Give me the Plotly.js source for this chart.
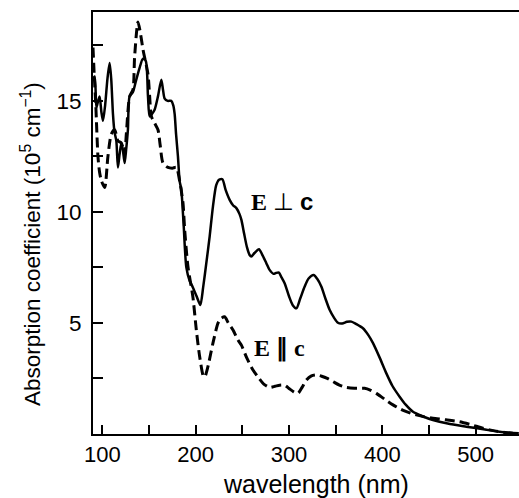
<!DOCTYPE html>
<html>
<head>
<meta charset="utf-8">
<script src="https://cdn.plot.ly/plotly-3.0.1.min.js"></script>
<style>html,body{margin:0;padding:0;background:#fff;}#chart{width:519px;height:498px;}</style>
</head>
<body>
<div id="chart"></div>
<script>
// E perpendicular c (solid)
var perpWavelength = [90, 91.8, 93.6, 95.5, 97.1, 99, 100.7, 103, 105.5, 107.8, 109.5, 111.4, 113, 115, 116.7, 118.5, 120.4, 122, 123.9, 125.5, 127.4, 129.2, 132.8, 136, 140, 143.5, 146.5, 148.9, 150.7, 153, 156, 159.6, 163.2, 165, 166.8, 170, 173.9, 176, 177.5, 179, 181, 182.8, 184.6, 187, 190, 193.5, 197, 201, 205, 208, 211.4, 215, 218.5, 222, 225, 228.6, 232, 236.4, 240, 243.6, 247, 249, 252, 255, 257.8, 259.6, 263, 267.8, 271, 275.7, 279, 283.5, 286, 289.2, 292, 295.3, 300, 304, 307.9, 312, 316.8, 321, 326.4, 330, 334.6, 339, 343.5, 348, 352.4, 357, 362, 366.8, 372, 379.2, 385, 390, 397, 404.3, 411, 418.5, 425, 432.8, 443, 454.2, 470, 490, 510, 525.7, 546];
var perpAbsorption = [16.0, 16.1, 14.7, 15.0, 15.2, 14.5, 14.1, 14.8, 16.0, 16.7, 16.0, 14.4, 13.6, 13.2, 12.0, 12.6, 13.1, 12.8, 12.2, 12.8, 13.7, 15.2, 15.4, 15.9, 16.5, 16.9, 16.8, 15.2, 14.3, 14.4, 14.6, 15.2, 15.95, 15.5, 15.1, 15.0, 15.0, 14.8, 14.4, 13.5, 12.5, 11.4, 11.0, 9.5, 7.5, 6.9, 6.6, 6.2, 5.81, 6.6, 7.69, 8.9, 10.24, 11.2, 11.45, 11.47, 11.0, 10.54, 10.3, 10.17, 9.9, 9.64, 9.0, 8.4, 8.06, 7.99, 8.15, 8.32, 8.1, 7.69, 7.4, 7.21, 7.25, 7.27, 7.05, 6.79, 6.2, 5.8, 5.66, 6.1, 6.64, 7.0, 7.16, 7.0, 6.64, 6.1, 5.59, 5.25, 5.01, 4.98, 5.05, 5.06, 4.95, 4.76, 4.45, 4.09, 3.45, 2.73, 2.15, 1.68, 1.32, 1.0, 0.8, 0.63, 0.47, 0.33, 0.2, 0.1, 0.03];

// E parallel c (dashed)
var paraWavelength = [90, 91.5, 93, 95.3, 97, 99, 102.5, 106, 109.6, 113.2, 116.7, 120.4, 123.9, 125.7, 129.3, 132.8, 134.6, 138.2, 141, 143.6, 148.9, 150.7, 152.5, 156, 159.6, 162, 165, 170.3, 175, 179.3, 182.8, 186.4, 188.2, 191.7, 197, 200.7, 204.3, 208.5, 210, 213.1, 218.5, 223.9, 227, 231, 235, 240, 245.3, 249, 255, 261.4, 268, 273, 279.3, 285, 290, 295.3, 300, 305, 309.6, 314, 318.6, 324, 329.3, 335, 341, 347.1, 354, 361.4, 370, 381, 387, 393.6, 402, 411.4, 423, 436.4, 445, 454.2, 468, 482.8, 495, 507.8, 520, 532.9, 546];
var paraAbsorption = [17.4, 16.0, 14.8, 12.5, 11.8, 11.4, 11.1, 12.5, 13.5, 13.7, 13.2, 13.1, 12.6, 13.5, 15.2, 15.5, 17.0, 18.55, 18.0, 17.3, 16.2, 15.2, 14.3, 14.0, 13.7, 13.0, 12.2, 12.0, 11.97, 12.0, 11.4, 10.4, 9.2, 7.54, 6.18, 4.68, 3.48, 2.58, 2.6, 3.03, 4.09, 4.99, 5.2, 5.28, 5.0, 4.68, 4.23, 4.0, 3.4, 2.88, 2.5, 2.25, 2.1, 2.15, 2.2, 2.2, 2.05, 1.9, 1.83, 2.1, 2.43, 2.62, 2.66, 2.6, 2.5, 2.36, 2.2, 2.1, 2.06, 2.06, 1.98, 1.83, 1.58, 1.31, 1.05, 0.86, 0.77, 0.71, 0.64, 0.55, 0.42, 0.26, 0.14, 0.06, 0.02];

var xTickVals = [100, 150, 200, 250, 300, 350, 400, 450, 500];
var xTickText = ["100", "", "200", "", "300", "", "400", "", "500"];
var yTickVals = [2.5, 5, 7.5, 10, 12.5, 15, 17.5];
var yTickText = ["", "5", "", "10", "", "15", ""];

var traces = [
  {x: perpWavelength, y: perpAbsorption, mode: 'lines', name: 'E ⊥ c',
   line: {color: '#000', width: 2.5, shape: 'spline', smoothing: 0.7}},
  {x: paraWavelength, y: paraAbsorption, mode: 'lines', name: 'E ∥ c',
   line: {color: '#000', width: 3, dash: '10px,5px', shape: 'spline', smoothing: 0.7}}
];

var layout = {
  width: 519, height: 498,
  margin: {l: 93, r: 0, t: 12, b: 64},
  paper_bgcolor: '#fff', plot_bgcolor: '#fff',
  showlegend: false,
  font: {family: 'Liberation Sans, Arial, sans-serif', color: '#000', size: 22},
  xaxis: {
    range: [90, 546.4], showgrid: false, zeroline: false,
    showline: true, linecolor: '#000', linewidth: 2, mirror: true,
    ticks: 'inside', ticklen: 9, tickwidth: 2, tickcolor: '#000',
    tickmode: 'array', tickvals: xTickVals, ticktext: xTickText,
    tickfont: {size: 22}
  },
  yaxis: {
    range: [0, 19], showgrid: false, zeroline: false,
    showline: true, linecolor: '#000', linewidth: 2,
    ticks: 'inside', ticklen: 10, tickwidth: 2, tickcolor: '#000',
    tickmode: 'array', tickvals: yTickVals, ticktext: yTickText,
    tickfont: {size: 22.5}, ticklabelstandoff: 5
  },
  annotations: [
    {x: 0.523, y: -0.119, xref: 'paper', yref: 'paper', showarrow: false,
     xanchor: 'center', yanchor: 'middle',
     text: 'wavelength (nm)',
     font: {family: 'Liberation Sans, Arial, sans-serif', size: 25, color: '#000'}},
    {x: -0.1455, y: 0.45, xref: 'paper', yref: 'paper', showarrow: false,
     textangle: -90, xanchor: 'center', yanchor: 'middle',
     text: 'Absorption coefficient (10<sup>5</sup> cm<sup>−1</sup>)',
     font: {family: 'Liberation Sans, Arial, sans-serif', size: 22.5, color: '#000'}},
    {x: 292.6, y: 10.45, xref: 'x', yref: 'y', showarrow: false,
     text: '<b>E</b> ⊥ <span style="font-family:Liberation Sans"><b>c</b></span>',
     font: {family: 'Liberation Serif, Times New Roman, serif', size: 24, color: '#000'}},
    {x: 290, y: 3.85, xref: 'x', yref: 'y', showarrow: false,
     text: '<b>E ∥ c</b>',
     font: {family: 'Liberation Serif, Times New Roman, serif', size: 24, color: '#000'}}
  ]
};

Plotly.newPlot('chart', traces, layout, {staticPlot: true, displayModeBar: false});
</script>
</body>
</html>
